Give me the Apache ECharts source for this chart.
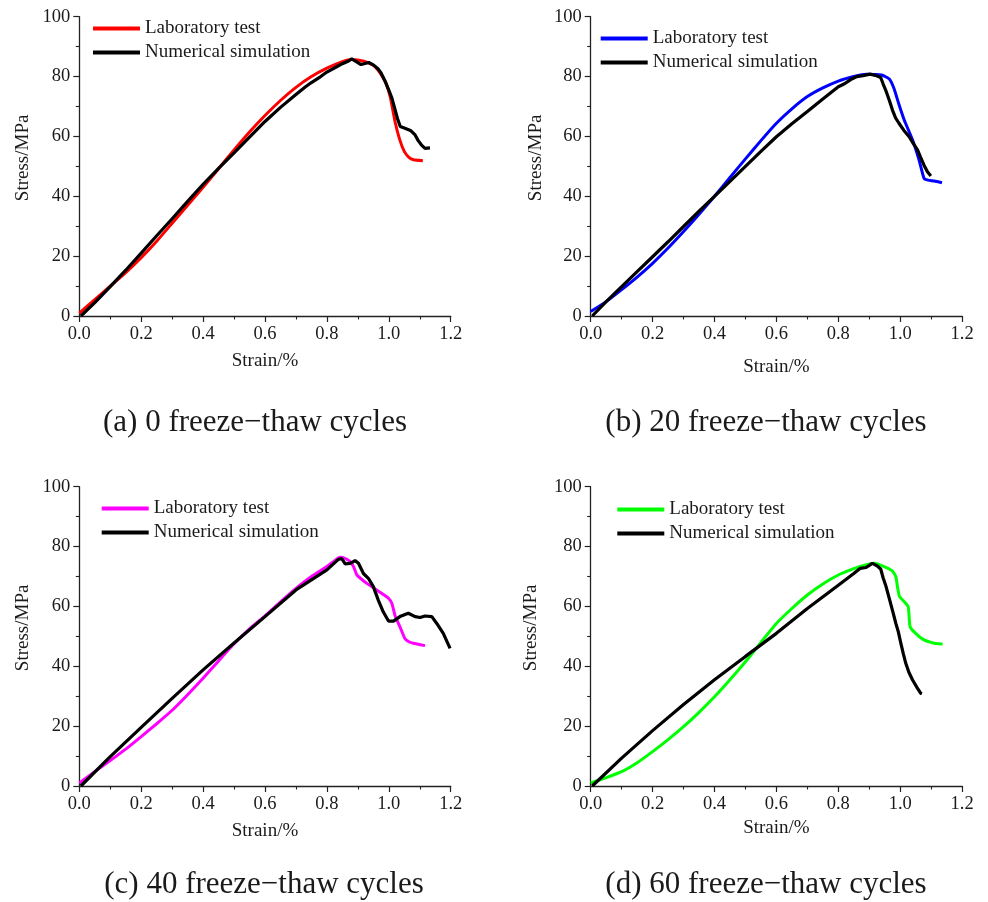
<!DOCTYPE html>
<html>
<head>
<meta charset="utf-8">
<script src="https://cdn.jsdelivr.net/npm/echarts@6/dist/echarts.min.js"></script>
<style>html,body{margin:0;padding:0;background:#fff;}#c{width:988px;height:902px;}</style>
</head>
<body>
<div id="c"></div>
<script>
// ---- data (strain %, stress MPa) ----
const labA = [[0,1],[0.05,5.5],[0.1,10],[0.15,14.5],[0.2,19.5],[0.25,25],[0.3,31],[0.35,37],[0.4,43],[0.45,49.2],[0.5,55.5],[0.55,61.5],[0.6,67],[0.65,72],[0.7,76.4],[0.75,80],[0.8,82.8],[0.85,85],[0.88,85.7],[0.92,85.1],[0.95,83.8],[0.97,81.5],[0.99,78],[1.005,73],[1.02,65],[1.035,59],[1.05,55],[1.065,53],[1.08,52.2],[1.11,51.9]];
const simA = [[0.005,0],[0.05,4.5],[0.1,9.8],[0.15,15.3],[0.2,21],[0.25,26.8],[0.3,32.5],[0.35,38.3],[0.4,44],[0.45,49.3],[0.5,54.5],[0.55,59.8],[0.6,65],[0.65,69.7],[0.7,74],[0.73,76.5],[0.75,78],[0.78,80],[0.8,81.5],[0.83,83.2],[0.85,84.3],[0.87,85.2],[0.88,85.9],[0.895,85],[0.91,84],[0.92,84.3],[0.935,84.7],[0.95,83.9],[0.965,82.6],[0.975,81.2],[0.99,78],[1.0,75.5],[1.01,72.8],[1.02,69],[1.028,66],[1.037,63.3],[1.05,62.8],[1.07,62],[1.085,60.5],[1.095,58.6],[1.105,57.2],[1.117,56],[1.133,56.2]];
const labB = [[0,1.5],[0.05,4.8],[0.1,8.8],[0.15,13],[0.2,17.6],[0.25,22.7],[0.3,28.2],[0.35,34],[0.4,40],[0.45,46.3],[0.5,52.5],[0.55,58.6],[0.6,64.4],[0.65,69.2],[0.7,73.3],[0.75,76.2],[0.8,78.5],[0.85,80],[0.89,80.8],[0.94,80.5],[0.965,79.2],[0.98,76],[0.995,71],[1.013,65.5],[1.04,58.8],[1.061,52.1],[1.077,46],[1.09,45.4],[1.11,45.1],[1.135,44.5]];
const simB = [[0.005,0],[0.05,4.8],[0.1,9.8],[0.15,14.8],[0.2,19.8],[0.25,24.8],[0.3,29.9],[0.35,35],[0.4,40],[0.45,45],[0.5,50],[0.55,55],[0.6,59.9],[0.65,64.2],[0.7,68.3],[0.75,72.5],[0.8,76.6],[0.82,77.6],[0.84,79],[0.86,80],[0.88,80.3],[0.902,80.8],[0.92,80.4],[0.937,79.7],[0.945,77.5],[0.953,75.5],[0.965,72],[0.975,68.8],[0.985,66.2],[0.996,64.4],[1.012,62],[1.029,59.9],[1.043,57.5],[1.056,55.5],[1.066,53],[1.077,50.4],[1.088,48.2],[1.099,46.8]];
const labC = [[0,1],[0.05,4.8],[0.1,8.5],[0.15,12.3],[0.2,16.5],[0.25,20.8],[0.3,25.3],[0.35,30.5],[0.4,36],[0.45,41.8],[0.5,47.5],[0.55,52.5],[0.6,56.8],[0.65,61.5],[0.7,66],[0.75,70],[0.8,73.3],[0.825,75.3],[0.842,76.4],[0.86,76],[0.875,75],[0.886,73.3],[0.897,70.5],[0.929,67.7],[0.961,65.5],[0.985,63.8],[0.999,62.7],[1.01,61],[1.02,57],[1.036,53.2],[1.052,49.3],[1.065,48.2],[1.079,47.7],[1.117,46.9]];
const simC = [[0.005,0],[0.1,9.8],[0.2,19.6],[0.3,29.3],[0.4,38.8],[0.5,47.8],[0.6,56.6],[0.7,65.5],[0.8,72.2],[0.837,75.7],[0.848,76],[0.859,74.2],[0.875,74.4],[0.891,75.3],[0.902,74.4],[0.918,71],[0.934,69.4],[0.95,66.6],[0.966,62.1],[0.982,58.2],[0.999,55.1],[1.015,55.1],[1.036,56.6],[1.063,57.7],[1.085,56.6],[1.101,56.3],[1.117,56.8],[1.139,56.6],[1.155,54.3],[1.176,51],[1.198,46]];
const labD = [[0,1],[0.05,2.8],[0.1,4.8],[0.15,7.8],[0.2,11.5],[0.25,15.5],[0.3,19.8],[0.35,24.6],[0.4,29.8],[0.45,35.5],[0.5,41.5],[0.55,48],[0.6,54.3],[0.65,59.3],[0.7,63.8],[0.75,67.5],[0.8,70.5],[0.85,72.6],[0.88,73.6],[0.916,74.4],[0.948,73.3],[0.975,71.8],[0.986,69.9],[0.992,66],[0.998,63.3],[1.013,61.6],[1.026,59.9],[1.032,53.2],[1.05,51],[1.077,48.8],[1.11,47.7],[1.137,47.4]];
const simD = [[0.005,0],[0.1,9.3],[0.2,18.5],[0.3,27.2],[0.4,35.5],[0.5,43.3],[0.6,51],[0.7,59.3],[0.8,67.1],[0.85,71],[0.87,72.7],[0.89,73],[0.91,74.4],[0.925,73.6],[0.937,72.5],[0.945,69.5],[0.953,67.1],[0.969,61],[0.978,57.5],[0.986,54.3],[0.994,51.5],[1.002,47.7],[1.01,44.2],[1.018,41],[1.028,38],[1.04,35.4],[1.055,32.8],[1.066,31],[1.07,30.8]];

const seriesNames = ['Laboratory test', 'Numerical simulation'];
const labColors = ['#ff0000', '#0000ff', '#ff00ff', '#00ff00'];
const captions = ['(a) 0 freeze\u2212thaw cycles', '(b) 20 freeze\u2212thaw cycles', '(c) 40 freeze\u2212thaw cycles', '(d) 60 freeze\u2212thaw cycles'];
const xName = 'Strain/%';
const yName = 'Stress/MPa';
const labData = [labA, labB, labC, labD];
const simData = [simA, simB, simC, simD];

// ---- layout ----
const FONT = '"Liberation Serif", "Times New Roman", serif';
const TXT = '#1a1a1a';
const panels = [
  {left: 79.3, top: 16.7, xGap: 36, yGap: 47, legLeft: 93, legTop: 19},
  {left: 590.7, top: 16.7, xGap: 42, yGap: 45, legLeft: 600.7, legTop: 29},
  {left: 79.3, top: 486.7, xGap: 36, yGap: 47, legLeft: 101.7, legTop: 499},
  {left: 590.7, top: 486.7, xGap: 33, yGap: 50, legLeft: 617.3, legTop: 500}
];
const capPos = [[255, 423], [766, 423], [264, 885], [766, 885]];
const W = 371.4, H = 299.3;

const option = {
  animation: false,
  backgroundColor: '#fff',
  textStyle: {fontFamily: FONT, color: TXT},
  grid: [], xAxis: [], yAxis: [], series: [], legend: [],
  graphic: []
};

panels.forEach((p, i) => {
  option.grid.push({left: p.left, top: p.top, width: W, height: H, containLabel: false});
  const axCommon = {
    axisLine: {show: true, lineStyle: {color: '#222', width: 1.3}},
    axisTick: {show: true, length: 6, lineStyle: {color: '#222', width: 1.2}},
    minorTick: {show: true, splitNumber: 2, length: 3.5, lineStyle: {color: '#222', width: 1.1}},
    splitLine: {show: false},
    nameLocation: 'middle'
  };
  option.xAxis.push(Object.assign({}, axCommon, {
    type: 'value', gridIndex: i, min: 0, max: 1.2, interval: 0.2,
    name: xName, nameGap: p.xGap,
    nameTextStyle: {fontFamily: FONT, fontSize: 19, color: TXT},
    axisLabel: {fontFamily: FONT, fontSize: 18.5, color: TXT, margin: 9, formatter: v => v.toFixed(1)}
  }));
  option.yAxis.push(Object.assign({}, axCommon, {
    type: 'value', gridIndex: i, min: 0, max: 100, interval: 20,
    name: yName, nameGap: p.yGap,
    nameTextStyle: {fontFamily: FONT, fontSize: 19, color: TXT, padding: [0, 0, 0, 17]},
    axisLabel: {fontFamily: FONT, fontSize: 18.5, color: TXT, margin: 9}
  }));
  const nameL = seriesNames[0] + '\u200b'.repeat(i);
  const nameS = seriesNames[1] + '\u200b'.repeat(i);
  option.series.push({
    type: 'line', name: nameL, xAxisIndex: i, yAxisIndex: i, data: labData[i],
    showSymbol: false, symbol: 'none', smooth: 0.15,
    lineStyle: {color: labColors[i], width: 3}, itemStyle: {color: labColors[i]}, z: 2
  });
  option.series.push({
    type: 'line', name: nameS, xAxisIndex: i, yAxisIndex: i, data: simData[i],
    showSymbol: false, symbol: 'none', smooth: false,
    lineStyle: {color: '#000', width: 3.2}, itemStyle: {color: '#000'}, z: 3
  });
  option.legend.push({
    data: [nameL, nameS], orient: 'vertical', left: p.legLeft, top: p.legTop,
    padding: 0, itemGap: 5, itemWidth: 47, itemHeight: 4, icon: 'rect',
    selectedMode: false,
    textStyle: {fontFamily: FONT, fontSize: 19, color: TXT},
    formatter: n => n.replace(/\u200b/g, '')
  });
  option.graphic.push({
    type: 'text', x: capPos[i][0], y: capPos[i][1],
    style: {text: captions[i], fontFamily: FONT, fontSize: 31, fill: TXT, textAlign: 'center', textVerticalAlign: 'middle'}
  });
});

const chart = echarts.init(document.getElementById('c'), null, {renderer: 'canvas'});
chart.setOption(option);
</script>
</body>
</html>
